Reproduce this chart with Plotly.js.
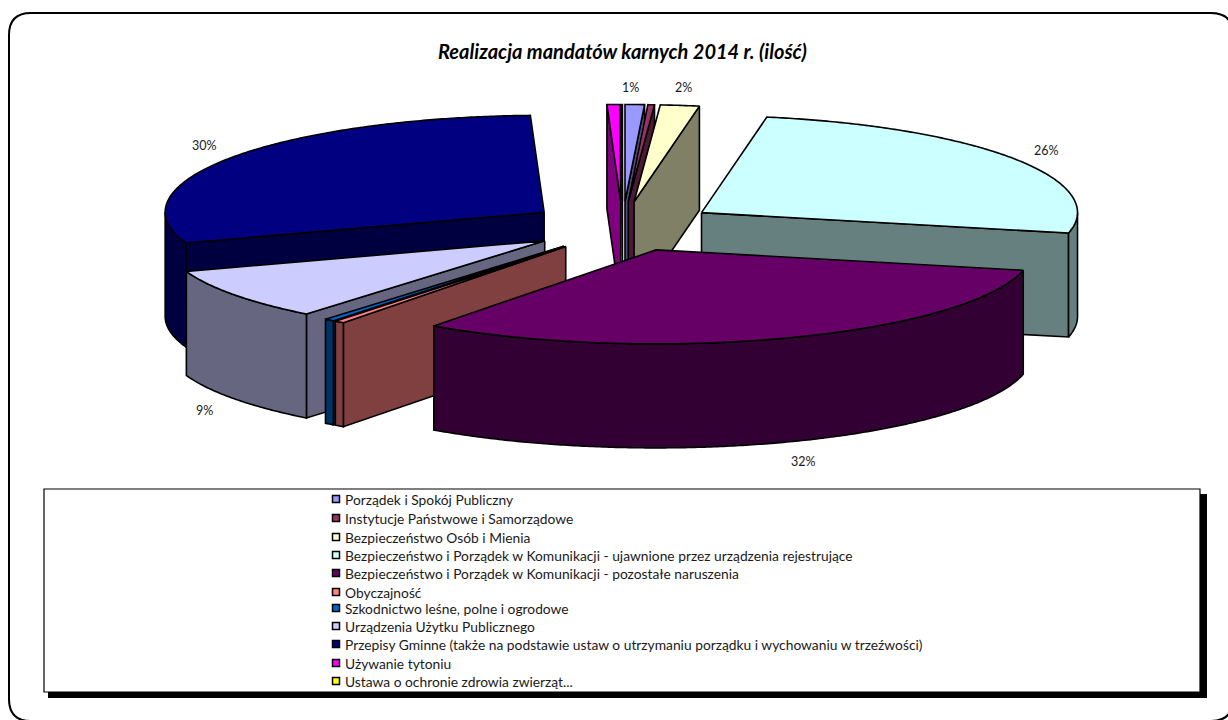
<!DOCTYPE html>
<html>
<head>
<meta charset="utf-8">
<script src="https://cdn.plot.ly/plotly-3.0.1.min.js"></script>
<style>html,body{margin:0;padding:0;background:#fff;overflow:hidden}#chart{width:1228px;height:720px}</style>
</head>
<body>
<div id="chart"></div>
<script>
// ---- data ----
const chartTitle = 'Realizacja mandatów karnych 2014 r. (ilość)';
const categories = [
  'Porządek i Spokój Publiczny',
  'Instytucje Państwowe i Samorządowe',
  'Bezpieczeństwo Osób i Mienia',
  'Bezpieczeństwo i Porządek w Komunikacji - ujawnione przez urządzenia rejestrujące',
  'Bezpieczeństwo i Porządek w Komunikacji - pozostałe naruszenia',
  'Obyczajność',
  'Szkodnictwo leśne, polne i ogrodowe',
  'Urządzenia Użytku Publicznego',
  'Przepisy Gminne (także na podstawie ustaw o utrzymaniu porządku i wychowaniu w trzeźwości)',
  'Używanie tytoniu',
  'Ustawa o ochronie zdrowia zwierząt...'
];
const shares = [0.83, 0.28, 1.67, 25.7, 31.5, 0.42, 0.42, 8.9, 29.7, 0.56, 0.02];
const shownLabels = ['1%', '', '2%', '26%', '32%', '', '', '9%', '30%', '', ''];
const topColors = ['#9999FF','#993366','#FFFFCC','#CCFFFF','#660066','#FF8080','#0066CC','#CCCCFF','#000080','#FF00FF','#FFFF00'];
const sideColors = ['#4D4D80','#4D1A33','#808066','#668080','#330033','#804040','#003366','#666680','#000040','#800080','#808000'];

// ---- layout of the drawing (axes run in page pixels) ----
const W = 1228, H = 720;
const cx = 622.5, cy = 226.5, RRight = 376, RLeft = 379, rBack = 97, rFront = 94, pullX = 95, pullY = 25, depth = 104;
const drawOrder = [9, 10, 0, 1, 2, 8, 3, 7, 6, 5, 4];
const labelPos = {0:[630,87], 2:[683,87], 3:[1046,150], 4:[803,461], 7:[204,410], 8:[204,145]};
const legendRows = [499,518,537,555,573,592,608,626,644,663,681];
const legendSwatchX = 336, legendTextX = 345;
const font = 'Lato, Carlito, Calibri, sans-serif';

const rad = d => d * Math.PI / 180;
const total = shares.reduce((a, b) => a + b, 0);
let acc = 0;
const slices = shares.map(v => {
  const a0 = acc / total * 360; acc += v; const a1 = acc / total * 360;
  const m = rad((a0 + a1) / 2);
  return {a0, a1, ax: cx + pullX * Math.sin(m), ay: cy - pullY * Math.cos(m)};
});
const rim = (s, d) => {
  const c = Math.cos(rad(d)), n = Math.sin(rad(d));
  return [s.ax + (n < 0 ? RLeft : RRight) * n, s.ay - (c < 0 ? rFront : rBack) * c];
};

const traces = [];
function face(xs, ys, fill, name) {
  traces.push({type:'scatter', mode:'lines', x:xs.concat(xs[0]), y:ys.concat(ys[0]), fill:'toself',
    fillcolor:fill, line:{color:'#000', width:1.6, simplify:false}, hoverinfo:'text', text:name, showlegend:false, name:name});
}
function wall(s, d, i) {
  const p = rim(s, d);
  face([s.ax, p[0], p[0], s.ax], [s.ay, p[1], p[1] + depth, s.ay + depth], sideColors[i], categories[i]);
}
function arcPts(s) {
  const pts = [], n = Math.max(2, Math.ceil(s.a1 - s.a0) * 2);
  for (let k = 0; k <= n; k++) pts.push(s.a0 + (s.a1 - s.a0) * k / n);
  return pts;
}
drawOrder.forEach(i => {
  const s = slices[i];
  const sinOf = d => Math.sin(rad(d));
  if (sinOf(s.a0) < 0) wall(s, s.a0, i);
  if (sinOf(s.a1) > 0) wall(s, s.a1, i);
  const lo = Math.max(s.a0, 90), hi = Math.min(s.a1, 270);
  if (hi > lo) {
    const ang = arcPts({a0: lo, a1: hi});
    const top = ang.map(d => rim(s, d));
    const xs = top.map(p => p[0]).concat(top.map(p => p[0]).reverse());
    const ys = top.map(p => p[1]).concat(top.map(p => p[1] + depth).reverse());
    face(xs, ys, sideColors[i], categories[i]);
  }
  const pts = arcPts(s).map(d => rim(s, d));
  face([s.ax].concat(pts.map(p => p[0])), [s.ay].concat(pts.map(p => p[1])), topColors[i], categories[i]);
});

// legend entries: swatch markers and their real text
traces.push({type:'scatter', mode:'markers', x:categories.map(() => legendSwatchX), y:legendRows,
  marker:{symbol:'square', size:7, color:topColors, line:{color:'#000', width:1.5}},
  text:categories, hoverinfo:'text', showlegend:false, name:'legenda'});

const annotations = [{xref:'x', yref:'y', x:622, y:51, showarrow:false, text:'<b><i>' + chartTitle + '</i></b>',
  font:{family:font, size:20, color:'#000'}, xanchor:'center', yanchor:'middle'}];
shownLabels.forEach((t, i) => {
  if (t) annotations.push({xref:'x', yref:'y', x:labelPos[i][0], y:labelPos[i][1], text:t, showarrow:false,
    font:{family:font, size:12.5, color:'#1a1a1a'}, xanchor:'center', yanchor:'middle'});
});
categories.forEach((t, i) => {
  annotations.push({xref:'x', yref:'y', x:legendTextX, y:legendRows[i], text:t, showarrow:false, borderpad:0, borderwidth:0,
    font:{family:font, size:13.8, color:'#1a1a1a'}, xanchor:'left', yanchor:'middle'});
});

const L = 9, T = 13, Rt = 1233, B = 721, c = 22;
const shapes = [
  {type:'path', xref:'x', yref:'y', layer:'below', line:{color:'#000', width:2}, fillcolor:'#fff',
   path:`M ${L+c} ${T} L ${Rt-c} ${T} Q ${Rt} ${T} ${Rt} ${T+c} L ${Rt} ${B-c} Q ${Rt} ${B} ${Rt-c} ${B} L ${L+c} ${B} Q ${L} ${B} ${L} ${B-c} L ${L} ${T+c} Q ${L} ${T} ${L+c} ${T} Z`},
  {type:'rect', xref:'x', yref:'y', layer:'below', x0:48, x1:1207, y0:494, y1:698, fillcolor:'#000', line:{width:0}},
  {type:'rect', xref:'x', yref:'y', layer:'below', x0:44, x1:1200, y0:489, y1:692, fillcolor:'#fff', line:{color:'#000', width:1.2}}
];

Plotly.newPlot('chart', traces, {
  width:W, height:H, margin:{l:0, r:0, t:0, b:0}, paper_bgcolor:'#fff', plot_bgcolor:'#fff', showlegend:false,
  xaxis:{range:[0, W], visible:false, fixedrange:true},
  yaxis:{range:[H, 0], visible:false, fixedrange:true},
  shapes, annotations, font:{family:font}
}, {displayModeBar:false});
</script>
</body>
</html>
